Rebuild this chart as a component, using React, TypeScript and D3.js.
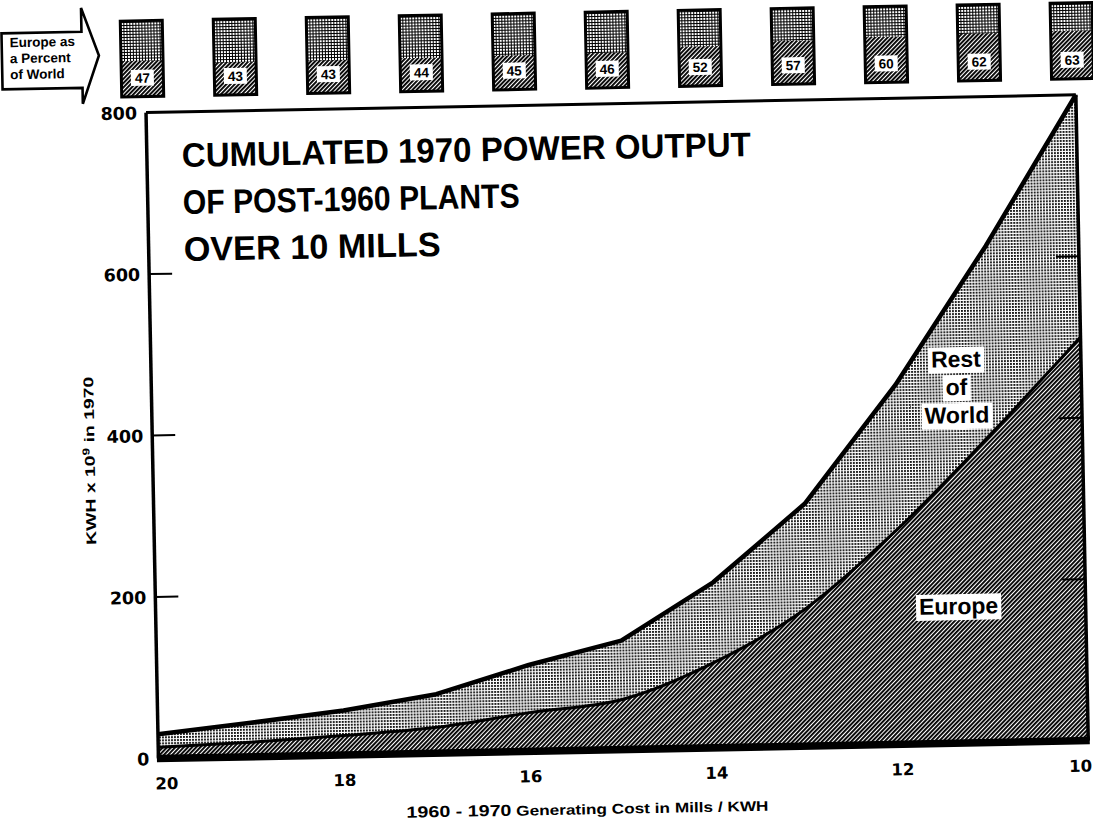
import React, { useLayoutEffect, useRef, useState } from 'react';
import * as d3 from 'd3';

// ---------- data ----------
const costs = [20, 19, 18, 17, 16, 15, 14, 13, 12, 11, 10];
const europe = [14, 18, 24, 32, 48, 62, 106, 171, 267, 380, 500];
const restOfWorld = [16, 24, 31, 41, 59, 73, 99, 129, 178, 235, 300];
const europePercent = [47, 43, 43, 44, 45, 46, 52, 57, 60, 62, 63];
const yTickValues = [0, 200, 400, 600, 800];
const yInnerTicks = [200, 400, 600];
const xTickValues = [20, 18, 16, 14, 12, 10];
const titleLines = ['CUMULATED 1970 POWER OUTPUT', 'OF POST-1960 PLANTS', 'OVER 10 MILLS'];
const titleWidths = [569, 337, 257];
const arrowLines = ['Europe as', 'a Percent', 'of World'];
const restLabelLines = ['Rest', 'of', 'World'];

const W = 1093;
const H = 822;
const PLOT = { left: 152, right: 1082, top: 105, bottom: 751 };
const FONT = '"Liberation Sans", Arial, Helvetica, sans-serif';
const WIDE = '"DejaVu Sans", "Liberation Sans", Arial, sans-serif';

type Row = { cost: number; europe: number; rest: number; pct: number };
const rows: Row[] = costs.map((c, i) => ({ cost: c, europe: europe[i], rest: restOfWorld[i], pct: europePercent[i] }));

function BgText(props: { x: number; y: number; text: string; size: number; pad?: number }) {
  const { x, y, text, size } = props;
  const pad = props.pad ?? 3;
  const ref = useRef<SVGTextElement>(null);
  const [box, setBox] = useState<{ x: number; y: number; w: number; h: number } | null>(null);
  useLayoutEffect(() => {
    if (ref.current) {
      const b = ref.current.getBBox();
      setBox({ x: b.x, y: b.y, w: b.width, h: b.height });
    }
  }, [x, y, text, size]);
  return (
    <g>
      {box && <rect x={box.x - pad} y={box.y + 1} width={box.w + pad * 2} height={box.h} fill="#fff" />}
      <text ref={ref} x={x} y={y} textAnchor="middle" fontFamily={FONT} fontWeight="bold" fontSize={size} fill="#000">
        {text}
      </text>
    </g>
  );
}

export default function App() {
  const x = d3.scaleLinear().domain([20, 10]).range([PLOT.left, PLOT.right]);
  const y = d3.scaleLinear().domain([0, 800]).range([PLOT.bottom, PLOT.top]);
  const boxX = d3.scalePoint<number>().domain(costs).range([149, 1079]);
  const boxY = d3.scaleLinear().domain([0, 100]).range([89, 13]);
  const boxW = 42;

  const stacked = d3.stack<Row>().keys(['europe', 'rest'])(rows);
  const euroSeries = stacked[0];
  const totalSeries = stacked[1];

  const totalArea = d3
    .area<d3.SeriesPoint<Row>>()
    .x((d) => x(d.data.cost))
    .y0(y(0))
    .y1((d) => y(d[1]))
    .curve(d3.curveLinear);
  const totalLine = d3
    .line<d3.SeriesPoint<Row>>()
    .x((d) => x(d.data.cost))
    .y((d) => y(d[1]))
    .curve(d3.curveLinear);
  const euroArea = d3
    .area<d3.SeriesPoint<Row>>()
    .x((d) => x(d.data.cost))
    .y0(y(0))
    .y1((d) => y(d[1]))
    .curve(d3.curveMonotoneX);
  const euroLine = d3
    .line<d3.SeriesPoint<Row>>()
    .x((d) => x(d.data.cost))
    .y((d) => y(d[1]))
    .curve(d3.curveMonotoneX);

  const xLabelShift = (v: number) => (v === 20 ? 8 : v === 10 ? -8 : 0);

  return (
    <svg
      width={W}
      height={H}
      viewBox={`0 0 ${W} ${H}`}
      style={{ position: 'absolute', left: 0, top: 0, background: '#fff' }}
    >
      <defs>
        <pattern id="hatch" width="3" height="3" patternUnits="userSpaceOnUse" patternTransform="rotate(45)">
          <rect width="3" height="3" fill="#fff" />
          <rect width="1.9" height="3" fill="#000" />
        </pattern>
        <pattern id="dots" width="3" height="3" patternUnits="userSpaceOnUse">
          <rect width="3" height="3" fill="#fff" />
          <rect width="1.9" height="1.9" fill="#111" />
        </pattern>
        <pattern id="mesh" width="3" height="3" patternUnits="userSpaceOnUse">
          <rect width="3" height="3" fill="#000" />
          <rect width="2" height="2" fill="#fff" />
        </pattern>
      </defs>
      <rect width={W} height={H} fill="#fff" />
      <g transform="rotate(-1.1 546 420)">
        {/* Arrow label */}
        <path
          d="M9,23 H89 V-1 L106,47 L89,95 V79 H9 Z"
          fill="#fff"
          stroke="#000"
          strokeWidth={2.6}
          strokeLinejoin="miter"
        />
        {arrowLines.map((t, i) => (
          <text key={t} x={17} y={37 + i * 16} fontFamily={FONT} fontWeight="bold" fontSize={13.5} fill="#000">
            {t}
          </text>
        ))}

        {/* Percent boxes */}
        {rows.map((r) => {
          const cx = boxX(r.cost) as number;
          const labelY = boxY(0) - 19;
          return (
            <g key={r.cost}>
              <rect x={cx - boxW / 2} y={boxY(100)} width={boxW} height={boxY(0) - boxY(100)} fill="url(#mesh)" />
              <rect
                x={cx - boxW / 2}
                y={boxY(r.pct)}
                width={boxW}
                height={boxY(0) - boxY(r.pct)}
                fill="url(#hatch)"
              />
              <rect
                x={cx - boxW / 2}
                y={boxY(100)}
                width={boxW}
                height={boxY(0) - boxY(100)}
                fill="none"
                stroke="#000"
                strokeWidth={3}
              />
              <rect x={cx - 11.5} y={labelY - 8} width={23} height={16} fill="#fff" />
              <text
                x={cx}
                y={labelY + 5}
                textAnchor="middle"
                fontFamily={FONT}
                fontWeight="bold"
                fontSize={13.5}
                fill="#000"
              >
                {r.pct}
              </text>
            </g>
          );
        })}

        {/* Areas */}
        <path d={totalArea(totalSeries) || ''} fill="url(#dots)" />
        <path d={euroArea(euroSeries) || ''} fill="url(#hatch)" />
        <path d={euroLine(euroSeries) || ''} fill="none" stroke="#000" strokeWidth={3} />
        <path d={totalLine(totalSeries) || ''} fill="none" stroke="#000" strokeWidth={4.5} strokeLinejoin="round" />

        {/* Frame */}
        <line x1={x(20)} x2={x(10)} y1={y(800)} y2={y(800)} stroke="#000" strokeWidth={3} />
        <line x1={x(10)} x2={x(10)} y1={y(800)} y2={y(0)} stroke="#000" strokeWidth={3.5} />
        <line x1={x(20)} x2={x(20)} y1={y(800)} y2={y(0)} stroke="#000" strokeWidth={3.5} />
        <line x1={x(20) - 1.5} x2={x(10) + 1.5} y1={y(0)} y2={y(0)} stroke="#000" strokeWidth={7.5} />

        {/* Y ticks (inside, both sides) */}
        {yInnerTicks.map((v) => (
          <g key={v}>
            <line x1={x(20)} x2={x(20) + 23} y1={y(v)} y2={y(v)} stroke="#000" strokeWidth={2} />
            <line x1={x(10)} x2={x(10) - 23} y1={y(v)} y2={y(v)} stroke="#000" strokeWidth={2} />
          </g>
        ))}
        {yTickValues.map((v) => (
          <text
            key={v}
            x={x(20) - 9}
            y={y(v) + 6.5}
            textAnchor="end"
            fontFamily={WIDE}
            fontWeight="bold"
            fontSize={17.5}
            fill="#000"
          >
            {v}
          </text>
        ))}
        {xTickValues.map((v) => (
          <text
            key={v}
            x={x(v) + xLabelShift(v)}
            y={y(0) + 31}
            textAnchor="middle"
            fontFamily={WIDE}
            fontWeight="bold"
            fontSize={16.5}
            fill="#000"
          >
            {v}
          </text>
        ))}

        {/* Axis titles */}
        <text
          transform={`translate(94, 452) rotate(-90)`}
          textAnchor="middle"
          fontFamily={FONT}
          fontWeight="bold"
          fontSize={14}
          fill="#000"
          textLength={168}
          lengthAdjust="spacingAndGlyphs"
        >
          KWH x 10<tspan dy={-5} fontSize={10}>9</tspan>
          <tspan dy={5}> in 1970</tspan>
        </text>
        <text
          x={580}
          y={815}
          textAnchor="middle"
          fontFamily={FONT}
          fontWeight="bold"
          fontSize={14}
          fill="#000"
          textLength={362}
          lengthAdjust="spacingAndGlyphs"
        >
          <tspan fontSize={16}>1960 - 1970</tspan>
          <tspan>{'  Generating Cost in Mills / KWH'}</tspan>
        </text>

        {/* Title */}
        {titleLines.map((t, i) => (
          <text
            key={t}
            x={187}
            y={160 + i * 47}
            fontFamily={FONT}
            fontWeight="bold"
            fontSize={34}
            fill="#000"
            textLength={titleWidths[i]}
            lengthAdjust="spacingAndGlyphs"
          >
            {t}
          </text>
        ))}

        {/* Series labels */}
        {restLabelLines.map((t, i) => (
          <BgText key={t} x={957} y={375 + i * 28} text={t} size={23} />
        ))}
        <BgText x={955} y={622} text="Europe" size={23} />
      </g>
    </svg>
  );
}
